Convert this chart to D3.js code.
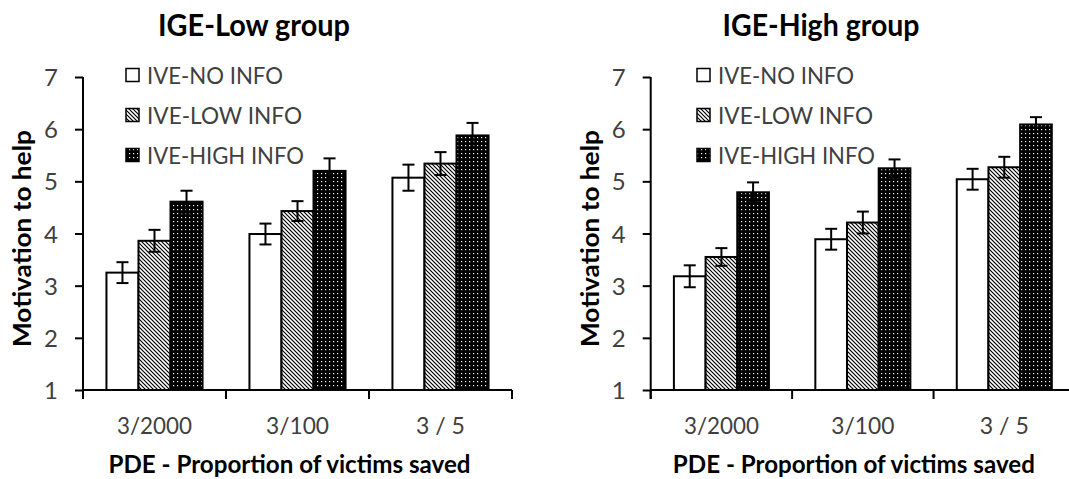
<!DOCTYPE html>
<html><head><meta charset="utf-8">
<script src="https://cdn.jsdelivr.net/npm/d3@7"></script>
<style>
html,body{margin:0;padding:0;background:#fff;}
svg{display:block;font-family:Lato,"Open Sans",sans-serif;}
</style></head>
<body><svg id="chart" width="1069" height="479"></svg>
<script>
// ---- data ----
const categories = ["3/2000", "3/100", "3 / 5"];
const seriesNames = ["IVE-NO INFO", "IVE-LOW INFO", "IVE-HIGH INFO"];
const yTicks = [1, 2, 3, 4, 5, 6, 7];
const panelTitles = ["IGE-Low group", "IGE-High group"];
const yAxisTitle = "Motivation to help";
const xAxisTitle = "PDE - Proportion of victims saved";

const lowNoInfo = [3.25, 3.99, 5.07];
const lowNoInfoErr = [0.20, 0.20, 0.25];
const lowLowInfo = [3.86, 4.43, 5.34];
const lowLowInfoErr = [0.21, 0.19, 0.22];
const lowHighInfo = [4.61, 5.20, 5.88];
const lowHighInfoErr = [0.21, 0.24, 0.24];

const highNoInfo = [3.18, 3.89, 5.04];
const highNoInfoErr = [0.21, 0.20, 0.20];
const highLowInfo = [3.55, 4.21, 5.27];
const highLowInfoErr = [0.17, 0.21, 0.20];
const highHighInfo = [4.79, 5.25, 6.09];
const highHighInfoErr = [0.19, 0.17, 0.14];

// ---- layout ----
const svg = d3.select("#chart");
const defs = svg.append("defs");

const hatch = defs.append("pattern").attr("id", "hatch")
  .attr("patternUnits", "userSpaceOnUse").attr("width", 4).attr("height", 4);
hatch.append("rect").attr("width", 4).attr("height", 4).attr("fill", "#fff");
hatch.append("path").attr("d", "M-1,-1L5,5M3,-1L5,1M-1,3L1,5")
  .attr("stroke", "#000").attr("stroke-width", 1.2);

const dots = defs.append("pattern").attr("id", "dots")
  .attr("patternUnits", "userSpaceOnUse").attr("width", 4).attr("height", 4);
dots.append("rect").attr("width", 4).attr("height", 4).attr("fill", "#000");
dots.append("rect").attr("x", 1).attr("y", 1).attr("width", 1.2).attr("height", 1.2).attr("fill", "#fff");

const fills = ["#fff", "url(#hatch)", "url(#dots)"];
const textGray = "#404040";
const legendTextLen = [136, 155, 157];
const catTextLen = [75, 63, 49];

const panels = [
  { title: panelTitles[0], x0: 83, x1: 512, titleX: 254, titleLen: 192, legendX: 126,
    values: [lowNoInfo, lowLowInfo, lowHighInfo], errs: [lowNoInfoErr, lowLowInfoErr, lowHighInfoErr] },
  { title: panelTitles[1], x0: 650.7, x1: 1075, titleX: 821, titleLen: 197, legendX: 697,
    values: [highNoInfo, highLowInfo, highHighInfo], errs: [highNoInfoErr, highLowInfoErr, highHighInfoErr] }
];

const y = d3.scaleLinear().domain([1, 7]).range([390, 77]);

panels.forEach(p => {
  const g = svg.append("g");
  const x = d3.scaleBand().domain(categories).range([p.x0, p.x1]);
  const groupW = x.bandwidth() * 0.672;
  const xs = d3.scaleBand().domain(d3.range(seriesNames.length)).range([0, groupW]);

  // bars
  seriesNames.forEach((s, si) => {
    const gs = g.append("g");
    gs.selectAll("rect").data(categories).join("rect")
      .attr("x", (c) => x(c) + (x.bandwidth() - groupW) / 2 + xs(si))
      .attr("y", (c, i) => y(p.values[si][i]))
      .attr("width", xs.bandwidth())
      .attr("height", (c, i) => y(1) - y(p.values[si][i]))
      .attr("fill", fills[si]).attr("stroke", "#000").attr("stroke-width", 2);
  });
  // error bars
  seriesNames.forEach((s, si) => {
    categories.forEach((c, i) => {
      const cx = x(c) + (x.bandwidth() - groupW) / 2 + xs(si) + xs.bandwidth() / 2;
      const v = p.values[si][i], e = p.errs[si][i];
      const eg = g.append("g").attr("stroke", "#000").attr("stroke-width", 2);
      eg.append("line").attr("x1", cx).attr("x2", cx).attr("y1", y(v - e)).attr("y2", y(v + e));
      eg.append("line").attr("x1", cx - 6).attr("x2", cx + 6).attr("y1", y(v - e)).attr("y2", y(v - e));
      eg.append("line").attr("x1", cx - 6).attr("x2", cx + 6).attr("y1", y(v + e)).attr("y2", y(v + e));
    });
  });

  // y axis
  const ya = g.append("g").attr("transform", `translate(${p.x0},0)`)
    .call(d3.axisLeft(y).tickValues(yTicks).tickSize(8).tickSizeOuter(0).tickPadding(17).tickFormat(d3.format("d")));
  ya.select(".domain").attr("stroke", "#000").attr("stroke-width", 2).attr("d", `M0,${y(7)}V${y(1) + 9}`);
  ya.selectAll(".tick line").attr("stroke", "#000").attr("stroke-width", 2);
  ya.selectAll(".tick text").attr("font-size", 24).attr("fill", textGray)
    .attr("font-family", "Lato, 'Open Sans', sans-serif").attr("text-anchor", "middle")
    .attr("x", -32).attr("dy", "0.36em");

  // x axis
  g.append("line").attr("x1", p.x0).attr("x2", p.x1).attr("y1", y(1)).attr("y2", y(1))
    .attr("stroke", "#000").attr("stroke-width", 2);
  const bounds = categories.map(c => x(c)).concat([x.range()[1]]);
  g.selectAll(".xb").data(bounds).join("line").attr("class", "xb")
    .attr("x1", d => d).attr("x2", d => d).attr("y1", y(1)).attr("y2", y(1) + 9)
    .attr("stroke", "#000").attr("stroke-width", 2);
  g.selectAll(".xl").data(categories).join("text").attr("class", "xl")
    .attr("x", c => x(c) + x.bandwidth() / 2).attr("y", 434)
    .attr("text-anchor", "middle").attr("font-size", 24).attr("fill", textGray)
    .attr("textLength", (c, i) => catTextLen[i]).attr("lengthAdjust", "spacingAndGlyphs")
    .text(c => c);

  // axis titles
  g.append("text").attr("x", (p.x0 + x.range()[1]) / 2 - 8 + (p.x0 > 300 ? -1 : 0)).attr("y", 473)
    .attr("text-anchor", "middle").attr("font-weight", "bold").attr("font-size", 24)
    .attr("textLength", 362).attr("lengthAdjust", "spacingAndGlyphs").attr("fill", "#000")
    .text(xAxisTitle);
  g.append("text").attr("transform", `translate(${p.x0 - 52},238.5) rotate(-90)`)
    .attr("text-anchor", "middle").attr("font-weight", "bold").attr("font-size", 25)
    .attr("textLength", 217).attr("lengthAdjust", "spacingAndGlyphs").attr("fill", "#000")
    .text(yAxisTitle);

  // title
  g.append("text").attr("x", p.titleX).attr("y", 36).attr("text-anchor", "middle")
    .attr("font-weight", "bold").attr("font-size", 30).attr("fill", "#000")
    .attr("textLength", p.titleLen).attr("lengthAdjust", "spacingAndGlyphs")
    .text(p.title);

  // legend
  const leg = g.append("g");
  seriesNames.forEach((s, si) => {
    const ly = 75 + si * 40;
    leg.append("rect").attr("x", p.legendX).attr("y", ly - 6.5).attr("width", 13).attr("height", 13)
      .attr("fill", fills[si]).attr("stroke", "#000").attr("stroke-width", 1.5);
    leg.append("text").attr("x", p.legendX + 21).attr("y", ly).attr("dominant-baseline", "central")
      .attr("font-size", 23).attr("fill", textGray)
      .attr("textLength", legendTextLen[si]).attr("lengthAdjust", "spacingAndGlyphs")
      .text(s);
  });
});
</script></body></html>
